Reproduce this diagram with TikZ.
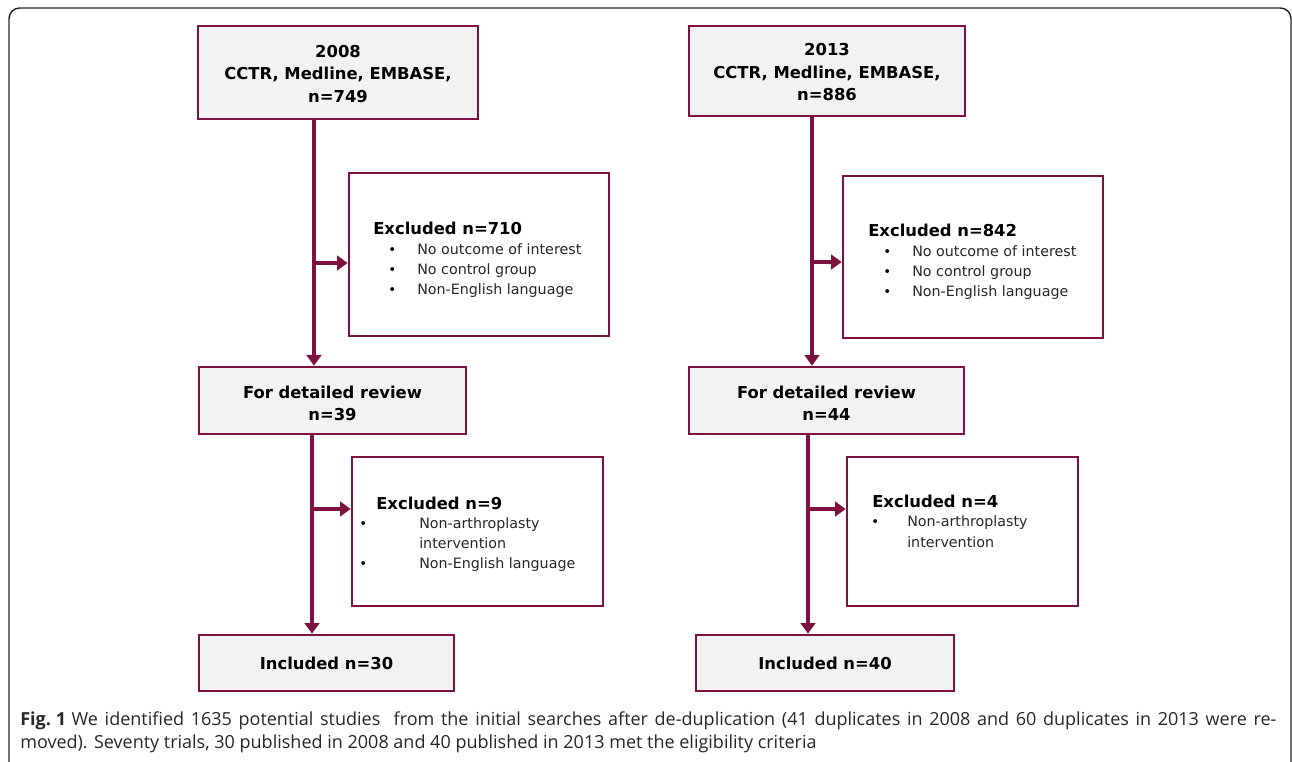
\documentclass[tikz,border=0pt]{standalone}
\usepackage{fontspec}
\setmainfont{DejaVu Sans}
\newfontfamily\capfont{Open Sans}
\usetikzlibrary{arrows.meta,fit}
\definecolor{maroon}{RGB}{125,18,64}
\definecolor{boxgray}{RGB}{242,242,242}
\begin{document}
\begin{tikzpicture}[x=0.75pt,y=-0.75pt,
  gbox/.style={draw=maroon, line width=2pt, fill=boxgray, inner sep=0pt},
  gtext/.style={inner sep=0pt, align=center, font=\fontsize{12.3}{16.9}\selectfont\bfseries},
  wbox/.style={draw=maroon, line width=2pt, fill=white, inner sep=0pt},
  flow/.style={draw=maroon, line width=3pt},
  flowarrow/.style={flow, -{Triangle[length=8pt,width=11pt]}},
  head/.style={anchor=base west, inner sep=0pt, font=\fontsize{12.3}{15}\selectfont\bfseries},
  item/.style={anchor=base west, inner sep=0pt, text=black!85, font=\fontsize{10.7}{13}\selectfont},
  bul/.style={anchor=base west, inner sep=0pt, text=black, font=\fontsize{10}{12}\selectfont},
  captext/.style={anchor=base west, inner sep=0pt, text=black!85, font=\capfont\fontsize{13.5}{16}\selectfont}]
\useasboundingbox (0,0) rectangle (1292,762);
\draw[line width=1.1pt, black!85, rounded corners=8] (9,775) -- (9,8) -- (1291,8) -- (1291,775);

% ---- left column (2008)
\node[gbox, fit={(198,26) (478,119)}] (a1) {};
\node[gtext] (a1t) at ([yshift=-1]a1.center) {2008\\CCTR, Medline, EMBASE,\\n=749};
\node[wbox, fit={(349,173) (609,336)}] (a2) {};
\node[gbox, fit={(199,367) (466,434)}] (a3) {};
\node[gtext] (a3t) at ([yshift=-2]a3.center) {For detailed review\\n=39};
\node[wbox, fit={(352,457) (603,606)}] (a4) {};
\node[gbox, fit={(199,635) (454,691)}] (a5) {};
\node[gtext] (a5t) at (a5.center) {Included n=30};

\node[head] (a2h) at (373,235) {Excluded n=710};
\node[bul] (a2b1) at (388,255) {•};
\node[item] (a2i1) at (417,255) {No outcome of interest};
\node[bul] (a2b2) at (388,275) {•};
\node[item] (a2i2) at (417,275) {No control group};
\node[bul] (a2b3) at (388,295) {•};
\node[item] (a2i3) at (417,295) {Non-English language};

\node[head] (a4h) at (376,509) {Excluded n=9};
\node[bul] (a4b1) at (359,528) {•};
\node[item] (a4i1) at (419,528) {Non-arthroplasty};
\node[item] (a4i2) at (419,548) {intervention};
\node[bul] (a4b2) at (359,568) {•};
\node[item] (a4i3) at (419,568) {Non-English language};

\coordinate (la) at (314,0);
\coordinate (lb) at (312,0);
\draw[flowarrow] (a1.south -| la) -- (a3.north -| la);
\draw[flowarrow] (a3.south -| lb) -- (a5.north -| lb);
\coordinate (ba) at (314,263);
\coordinate (bb) at (312,509);
\draw[flowarrow] (ba) -- (ba -| a2.west);
\draw[flowarrow] (bb) -- (bb -| a4.west);

% ---- right column (2013)
\node[gbox, fit={(689,26) (965,116)}] (b1) {};
\node[gtext] (b1t) at ([yshift=-1]b1.center) {2013\\CCTR, Medline, EMBASE,\\n=886};
\node[wbox, fit={(843,176) (1103,338)}] (b2) {};
\node[gbox, fit={(689,367) (964,434)}] (b3) {};
\node[gtext] (b3t) at ([yshift=-2]b3.center) {For detailed review\\n=44};
\node[wbox, fit={(847,457) (1078,606)}] (b4) {};
\node[gbox, fit={(696,635) (954,691)}] (b5) {};
\node[gtext] (b5t) at (b5.center) {Included n=40};

\node[head] (b2h) at (868,237) {Excluded n=842};
\node[bul] (b2b1) at (883,257) {•};
\node[item] (b2i1) at (912,257) {No outcome of interest};
\node[bul] (b2b2) at (883,277) {•};
\node[item] (b2i2) at (912,277) {No control group};
\node[bul] (b2b3) at (883,297) {•};
\node[item] (b2i3) at (912,297) {Non-English language};

\node[head] (b4h) at (872,508) {Excluded n=4};
\node[bul] (b4b1) at (871,527) {•};
\node[item] (b4i1) at (907,527) {Non-arthroplasty};
\node[item] (b4i2) at (907,547) {intervention};

\coordinate (ra) at (812,0);
\coordinate (rb) at (808,0);
\draw[flowarrow] (b1.south -| ra) -- (b3.north -| ra);
\draw[flowarrow] (b3.south -| rb) -- (b5.north -| rb);
\coordinate (bc) at (812,262);
\coordinate (bd) at (808,509);
\draw[flowarrow] (bc) -- (bc -| b2.west);
\draw[flowarrow] (bd) -- (bd -| b4.west);

% ---- caption
\node[captext] (c1) at (20,725) {\makebox[942pt][s]{\textbf{Fig.\kern0.28em1}\kern0.3em We identified 1635 potential studies~ from the initial searches after de-duplication (41 duplicates in 2008 and 60 duplicates in 2013 were re-}};
\node[captext] (c2) at (20,748) {moved). Seventy trials, 30 published in 2008 and 40 published in 2013 met the eligibility criteria};
\end{tikzpicture}
\end{document}
